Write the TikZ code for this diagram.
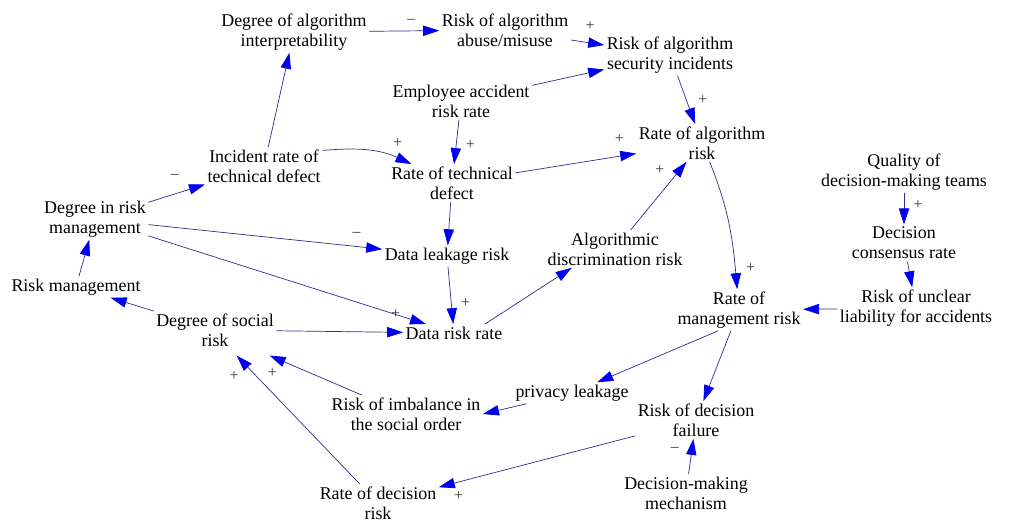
\documentclass[tikz,border=0pt]{standalone}
\usepackage{fontspec}
\setmainfont{Liberation Serif}
\usetikzlibrary{arrows.meta,positioning}
\definecolor{linkline}{RGB}{45,45,140}
\definecolor{tipblue}{RGB}{0,0,240}

\begin{document}
\begin{tikzpicture}[x=0.03cm, y=-0.03cm,
    var/.style={align=center, inner sep=2pt, font=\fontsize{15.3}{17}\selectfont},
    link/.style={draw=linkline, line width=0.6pt, -{Triangle[length=4.8mm, width=3.1mm, color=tipblue]}},
    sgn/.style={font=\fontsize{13.5}{15}\selectfont, inner sep=1pt, text=black!80},]
        \useasboundingbox (0,0) rectangle (1011,523);
        \node[var] (interp) at (294,32) {Degree of algorithm\\interpretability};
        \node[var] (abuse) at (505,30) {Risk of algorithm\\abuse/misuse};
        \node[var] (secur) at (670,55) {Risk of algorithm\\security incidents};
        \node[var] (empl) at (461,101) {Employee accident\\risk rate};
        \node[var] (incid) at (264,166) {Incident rate of\\technical defect};
        \node[var] (tech) at (452,183) {Rate of technical\\defect};
        \node[var] (alg) at (702,143) {Rate of algorithm\\risk};
        \node[var] (qual) at (904,172) {Quality of\\decision-making teams};
        \node[var, below of=qual, node distance=2.13cm] (cons) {Decision\\consensus rate};
        \node[var] (liab) at (916,308) {Risk of unclear\\liability for accidents};
        \node[var] (mgmt) at (739,310) {Rate of\\management risk};
        \node[var] (disc) at (615,249) {Algorithmic\\discrimination risk};
        \node[var] (leak) at (447,256) {Data leakage risk};
        \node[var] (degrm) at (95,219) {Degree in risk\\management};
        \node[var] (rm) at (76,287) {Risk management};
        \node[var] (soc) at (215,330) {Degree of social\\risk};
        \node[var] (drr) at (454,333) {Data risk rate};
        \node[var] (imb) at (406,414) {Risk of imbalance in\\the social order};
        \node[var] (priv) at (572,393) {privacy leakage};
        \node[var] (dfail) at (696,420) {Risk of decision\\failure};
        \node[var] (mech) at (686,493) {Decision-making\\mechanism};
        \node[var] (drate) at (378,503) {Rate of decision\\risk};
        % algorithm part
        \draw[link] (incid) -- (interp);
        \draw[link] (interp) -- node[sgn, pos=0.6, above=5pt] (s-interp) {–} (abuse);
        \draw[link] (abuse) -- node[sgn, pos=0.58, above=9pt] (s-abuse) {+} (secur);
        \draw[link] (empl) -- (secur);
        \draw[link] (empl) -- node[sgn, pos=0.57, right=7pt] (s-empl) {+} (tech);
        \draw[link] ([yshift=-1mm]incid.north east) to[out=5, in=155] node[sgn, pos=0.85, above=8pt] (s-incid) {+} (tech);
        \draw[link] (secur) -- node[sgn, pos=0.5, right=9pt] (s-secur) {+} (alg);
        \draw[link] (tech) -- node[sgn, pos=0.86, above=10pt] (s-tech) {+} (alg);
        \draw[link] (disc) -- node[sgn, pos=0.88, left=12pt] (s-disc) {+} (alg);
        \draw[link] (alg) to[out=-68, in=95] node[sgn, pos=0.85, right=8pt] (s-alg) {+} (mgmt);
        % decision part
        \draw[link] (qual) -- node[sgn, pos=0.4, right=7pt] (s-qual) {+} (cons);
        \draw[link] (cons) -- (liab);
        \draw[link] (liab) -- (mgmt);
        \draw[link] (mgmt.-135) -- (priv);
        \draw[link] (mgmt) -- (dfail);
        \draw[link] (mech) -- node[sgn, pos=0.7, left=10pt] (s-mech) {–} (dfail);
        \draw[link] (dfail) -- node[sgn, pos=0.9, below=7pt] (s-dfail) {+} (drate);
        % data and social part
        \draw[link] (degrm) -- node[sgn, pos=0.47, above=12pt] (s-degrm1) {–} (incid);
        \draw[link] (degrm) -- node[sgn, pos=0.89, above=7pt] (s-degrm2) {–} (leak);
        \draw[link] (degrm) -- node[sgn, pos=0.89] (s-degrm3) {+} (drr);
        \draw[link] (tech) -- (leak);
        \draw[link] (leak) -- node[sgn, pos=0.64, right=7pt] (s-leak) {+} (drr);
        \draw[link] ([xshift=-6mm]drr.north east) -- ([xshift=8mm]disc.south west);
        \draw[link] (soc) -- (drr);
        \draw[link] (soc) -- (rm);
        \draw[link] (rm) -- (degrm);
        \draw[link] (priv) -- (imb.east);
        \draw[link] (imb) -- node[sgn, pos=0.97, below=9pt] (s-imb) {+} ([xshift=-2mm, yshift=-2mm]soc.south east);
        \draw[link] (drate) -- node[sgn, pos=0.84, left=14pt] (s-drate) {+} ([xshift=6.5mm, yshift=-2mm]soc.south);
      \end{tikzpicture}
\end{document}
